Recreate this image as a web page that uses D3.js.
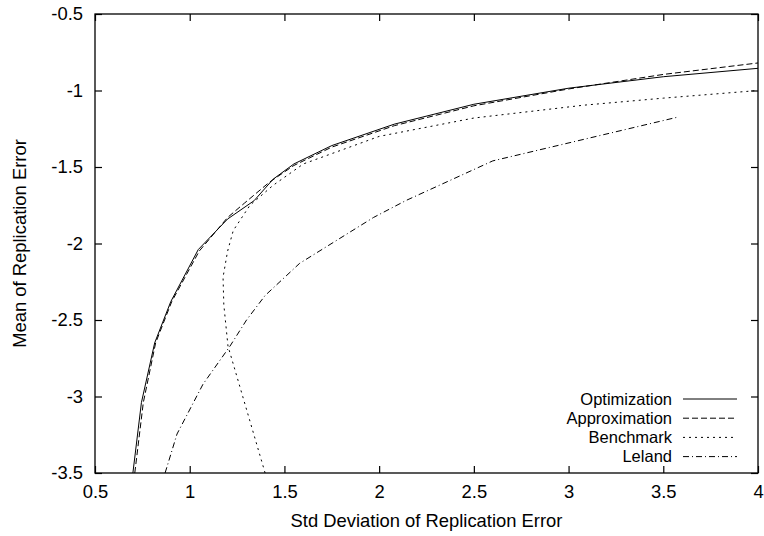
<!DOCTYPE html>
<html>
<head>
<meta charset="utf-8">
<script src="https://cdn.jsdelivr.net/npm/d3@7"></script>
<style>
  html, body { margin: 0; padding: 0; background: #fff; }
  svg { display: block; font-family: "Liberation Sans", Arial, Helvetica, sans-serif; }
</style>
</head>
<body>
<svg id="chart" width="764" height="536"></svg>
<script>
// ---- Data ----
const optX = [0.70, 0.745, 0.815, 0.90, 1.045, 1.20, 1.34, 1.44, 1.55, 1.75, 2.08, 2.50, 3.00, 3.50, 4.00];
const optY = [-3.50, -3.04, -2.65, -2.38, -2.04, -1.84, -1.72, -1.58, -1.48, -1.36, -1.22, -1.09, -0.985, -0.91, -0.855];

const apxX = [0.71, 0.755, 0.82, 0.905, 1.05, 1.20, 1.29, 1.42, 1.55, 1.75, 2.08, 2.50, 3.00, 3.50, 4.00];
const apxY = [-3.50, -3.04, -2.65, -2.38, -2.05, -1.83, -1.735, -1.60, -1.49, -1.37, -1.23, -1.10, -0.99, -0.895, -0.82];

const benX = [1.398, 1.202, 1.18, 1.176, 1.20, 1.23, 1.318, 1.44, 1.60, 1.90, 2.00, 2.50, 3.08, 3.50, 4.00];
const benY = [-3.50, -2.67, -2.40, -2.22, -2.05, -1.915, -1.75, -1.62, -1.48, -1.345, -1.30, -1.18, -1.096, -1.05, -1.00];

const lelX = [0.87, 0.933, 1.07, 1.213, 1.30, 1.398, 1.58, 1.97, 2.14, 2.60, 3.573];
const lelY = [-3.50, -3.245, -2.92, -2.67, -2.50, -2.34, -2.13, -1.83, -1.72, -1.46, -1.175];

const seriesNames = ["Optimization", "Approximation", "Benchmark", "Leland"];
const xTicks = [0.5, 1, 1.5, 2, 2.5, 3, 3.5, 4];
const yTicks = [-0.5, -1, -1.5, -2, -2.5, -3, -3.5];
const xTitle = "Std Deviation of Replication Error";
const yTitle = "Mean of Replication Error";

// ---- Layout ----
const svg = d3.select("#chart");
const pL = 95, pR = 758, pT = 14, pB = 473;
const x = d3.scaleLinear().domain([0.5, 4]).range([pL, pR]);
const y = d3.scaleLinear().domain([-3.5, -0.5]).range([pB, pT]);
const dashes = ["none", "6,3", "2,4", "6,3,1,3"];

const series = [
  {name: seriesNames[0], xs: optX, ys: optY, dash: dashes[0]},
  {name: seriesNames[1], xs: apxX, ys: apxY, dash: dashes[1]},
  {name: seriesNames[2], xs: benX, ys: benY, dash: dashes[2]},
  {name: seriesNames[3], xs: lelX, ys: lelY, dash: dashes[3]}
];

const fs = 18.4;
const legFs = 16.5;
const tickLen = 7;
const fmt = d => String(d);

// axes (inner ticks on all four sides)
const gB = svg.append("g").attr("transform", `translate(0,${pB})`)
  .call(d3.axisBottom(x).tickValues(xTicks).tickSize(-tickLen).tickPadding(12).tickFormat(fmt));
const gT = svg.append("g").attr("transform", `translate(0,${pT})`)
  .call(d3.axisTop(x).tickValues(xTicks).tickSize(-tickLen).tickFormat(""));
const gL = svg.append("g").attr("transform", `translate(${pL},0)`)
  .call(d3.axisLeft(y).tickValues(yTicks).tickSize(-tickLen).tickPadding(12).tickFormat(fmt));
const gR = svg.append("g").attr("transform", `translate(${pR},0)`)
  .call(d3.axisRight(y).tickValues(yTicks).tickSize(-tickLen).tickFormat(""));

[gB, gT, gL, gR].forEach(g => {
  g.select(".domain").remove();
  g.selectAll(".tick line").attr("stroke", "#000").attr("stroke-width", 1.2);
  g.selectAll("text").attr("font-size", fs).attr("fill", "#000")
    .attr("font-family", '"Liberation Sans", Arial, sans-serif');
});

svg.append("rect")
  .attr("x", pL).attr("y", pT)
  .attr("width", pR - pL).attr("height", pB - pT)
  .attr("fill", "none").attr("stroke", "#000").attr("stroke-width", 1.3);

// clip
svg.append("clipPath").attr("id", "clip").append("rect")
  .attr("x", pL).attr("y", pT).attr("width", pR - pL).attr("height", pB - pT);

const line = d3.line().x(d => x(d[0])).y(d => y(d[1]));
const plot = svg.append("g").attr("clip-path", "url(#clip)");
series.forEach(s => {
  const pts = s.xs.map((v, i) => [v, s.ys[i]]);
  plot.append("path").datum(pts)
    .attr("d", line)
    .attr("fill", "none").attr("stroke", "#000").attr("stroke-width", 1)
    .attr("stroke-dasharray", s.dash);
});

// legend
const legTextX = 672, legLineX1 = 683, legLineX2 = 737, legY0 = 399, legDy = 19.2;
series.forEach((s, i) => {
  const yy = legY0 + i * legDy;
  svg.append("text").attr("x", legTextX).attr("y", yy).attr("dy", "0.35em")
    .attr("text-anchor", "end").attr("font-size", legFs).text(s.name);
  svg.append("line").attr("x1", legLineX1).attr("x2", legLineX2).attr("y1", yy).attr("y2", yy)
    .attr("stroke", "#000").attr("stroke-width", 1).attr("stroke-dasharray", s.dash);
});

// titles
svg.append("text").attr("x", (pL + pR) / 2).attr("y", 527)
  .attr("text-anchor", "middle").attr("font-size", fs).text(xTitle);
svg.append("text")
  .attr("transform", `translate(26,${(pT + pB) / 2}) rotate(-90)`)
  .attr("text-anchor", "middle").attr("font-size", fs).text(yTitle);
</script>
</body>
</html>
